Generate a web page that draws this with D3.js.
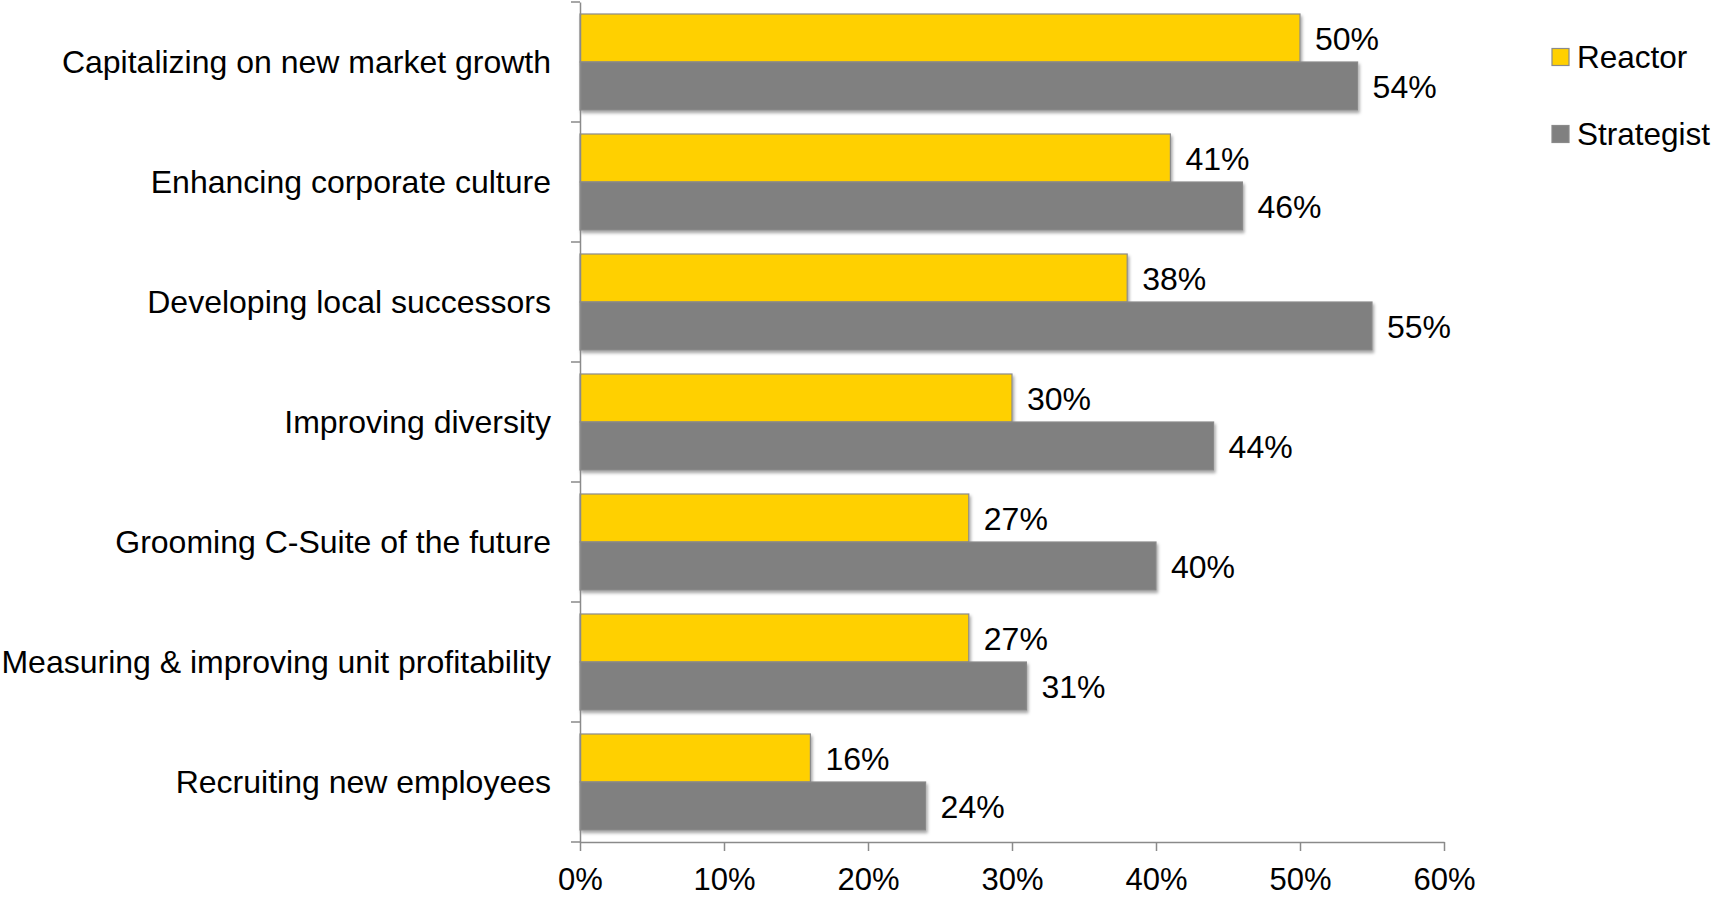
<!DOCTYPE html>
<html>
<head>
<meta charset="utf-8">
<script src="https://cdn.jsdelivr.net/npm/d3@7"></script>
<style>
  body { margin: 0; background: #fff; }
  text { font-family: "Liberation Sans", Arial, sans-serif; fill: #000; }
</style>
</head>
<body>
<div id="chart"></div>
<script>
// data
const categories = [
  "Capitalizing on new market growth",
  "Enhancing corporate culture",
  "Developing local successors",
  "Improving diversity",
  "Grooming C-Suite of the future",
  "Measuring & improving unit profitability",
  "Recruiting new employees"
];
const seriesNames = ["Reactor", "Strategist"];
const reactor = [50, 41, 38, 30, 27, 27, 16];
const strategist = [54, 46, 55, 44, 40, 31, 24];
const xTicks = [0, 10, 20, 30, 40, 50, 60];
const colors = { Reactor: "#FFD000", Strategist: "#808080" };

const W = 1717, H = 897;
const margin = { top: 2, right: 273, bottom: 55, left: 580 },
      width = W - margin.left - margin.right,
      height = H - margin.top - margin.bottom;

const svgRoot = d3.select("#chart")
  .append("svg")
    .attr("width", W)
    .attr("height", H);

// soft shadow under bars
const defs = svgRoot.append("defs");
const f = defs.append("filter").attr("id", "shadow")
  .attr("x", "-5%").attr("y", "-10%").attr("width", "115%").attr("height", "140%");
f.append("feDropShadow")
  .attr("dx", 1.5).attr("dy", 2.5).attr("stdDeviation", 1.8)
  .attr("flood-color", "#000").attr("flood-opacity", 0.35);

const svg = svgRoot.append("g")
  .attr("transform", `translate(${margin.left},${margin.top})`);

// scales
const x = d3.scaleLinear().domain([0, 60]).range([0, width]);
const y = d3.scaleBand().domain(categories).range([0, height]).padding(0);
const ySub = d3.scaleBand().domain(seriesNames)
  .range([y.bandwidth() * 0.1, y.bandwidth() * 0.9]).padding(0);

const rows = categories.map((c, i) => ({
  category: c,
  values: [
    { series: "Reactor", value: reactor[i] },
    { series: "Strategist", value: strategist[i] }
  ]
}));

// bars
const groups = svg.selectAll("g.row")
  .data(rows)
  .enter()
  .append("g")
    .attr("class", "row")
    .attr("transform", d => `translate(0,${y(d.category)})`);

groups.selectAll("rect")
  .data(d => d.values)
  .enter()
  .append("rect")
    .attr("x", x(0))
    .attr("y", d => ySub(d.series))
    .attr("width", d => x(d.value) - x(0))
    .attr("height", ySub.bandwidth())
    .attr("fill", d => colors[d.series])
    .attr("stroke", "#8a8a8a")
    .attr("stroke-width", 1.2)
    .attr("filter", "url(#shadow)");

// value labels
groups.selectAll("text.val")
  .data(d => d.values)
  .enter()
  .append("text")
    .attr("class", "val")
    .attr("x", d => x(d.value) + 15)
    .attr("y", d => ySub(d.series) + ySub.bandwidth() / 2 + 1)
    .attr("dy", "0.35em")
    .attr("font-size", "32px")
    .text(d => d.value + "%");

// y axis
const yAxis = svg.append("g")
  .call(d3.axisLeft(y).tickSize(0).tickPadding(29));
yAxis.select(".domain").attr("stroke", "#8a8a8a").attr("stroke-width", 1.5);
yAxis.selectAll("text").attr("font-size", "32px").attr("fill", "#000").attr("y", 1);
// band boundary ticks
yAxis.selectAll("line.bound")
  .data(categories.concat(["__end"]))
  .enter()
  .append("line")
    .attr("class", "bound")
    .attr("x1", -9).attr("x2", 0)
    .attr("y1", (d, i) => i * y.step())
    .attr("y2", (d, i) => i * y.step())
    .attr("stroke", "#8a8a8a")
    .attr("stroke-width", 1.5);

// x axis
const xAxis = svg.append("g")
  .attr("transform", `translate(0,${height})`)
  .call(d3.axisBottom(x).tickValues(xTicks).tickFormat(d => d + "%").tickSize(9).tickSizeOuter(0).tickPadding(17));
xAxis.select(".domain").attr("stroke", "#8a8a8a").attr("stroke-width", 1.5);
xAxis.selectAll("line").attr("stroke", "#8a8a8a").attr("stroke-width", 1.5);
xAxis.selectAll("text").attr("font-size", "31px").attr("fill", "#000");

// legend
const legend = svgRoot.append("g")
  .attr("transform", "translate(1552,0)");
const legendY = d3.scalePoint().domain(seriesNames).range([57, 134]);
const li = legend.selectAll("g")
  .data(seriesNames)
  .enter()
  .append("g")
    .attr("transform", d => `translate(0,${legendY(d)})`);
li.append("rect")
  .attr("x", 0).attr("y", -8.5)
  .attr("width", 17).attr("height", 17)
  .attr("fill", d => colors[d])
  .attr("stroke", "#8a8a8a")
  .attr("stroke-width", 1.2);
li.append("text")
  .attr("x", 25)
  .attr("dy", "0.35em")
  .attr("font-size", "31.5px")
  .text(d => d);
</script>
</body>
</html>
